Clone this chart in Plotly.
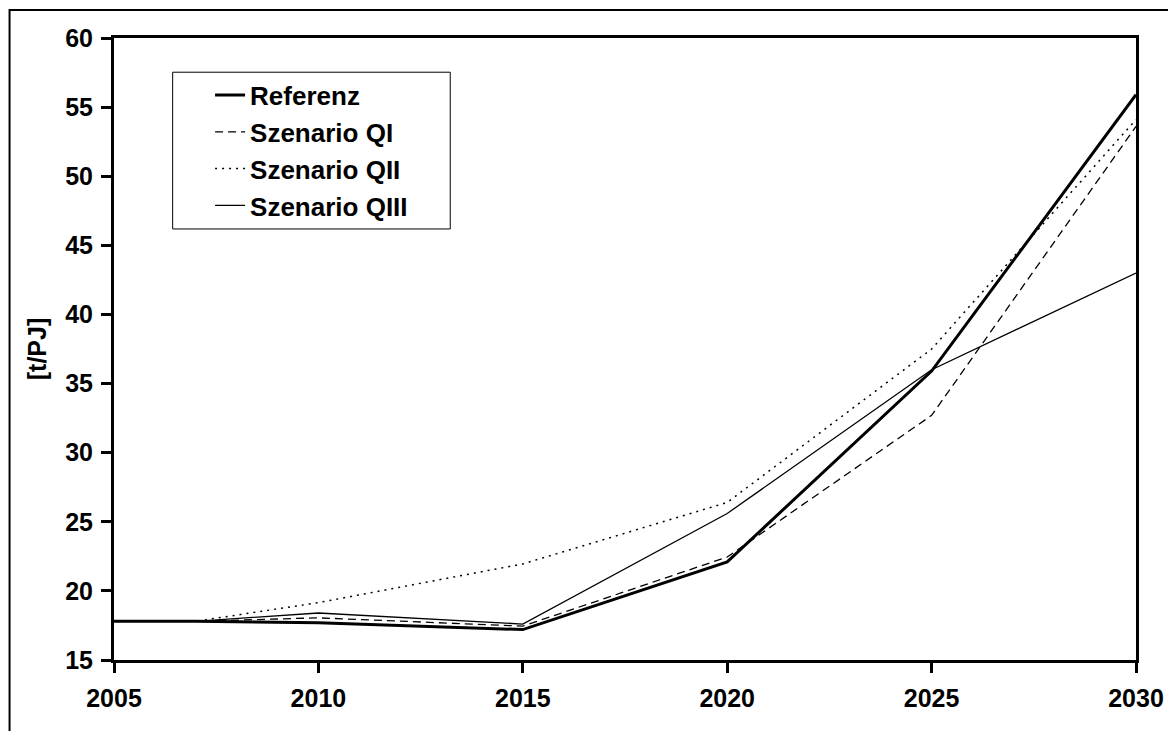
import plotly.graph_objects as go

# ---------------------------------------------------------------------------
# Data
# ---------------------------------------------------------------------------

years = [2005, 2007, 2010, 2015, 2020, 2025, 2030]

referenz = [17.8, 17.8, 17.7, 17.2, 22.1, 35.9, 55.9]
szenario_qi = [17.8, 17.8, 18.05, 17.45, 22.45, 32.7, 53.6]
szenario_qii = [17.8, 17.8, 19.15, 21.95, 26.4, 37.5, 54.1]
szenario_qiii = [17.8, 17.8, 18.4, 17.6, 25.6, 36.0, 43.0]

x_ticks = [2005, 2010, 2015, 2020, 2025, 2030]
y_ticks = [15, 20, 25, 30, 35, 40, 45, 50, 55, 60]

INK = "#000000"
FONT = "Liberation Sans, Arial, sans-serif"

series = [
    ("Referenz", referenz, dict(color=INK, width=3, dash="solid")),
    ("Szenario QI", szenario_qi, dict(color=INK, width=1.3, dash="8px,5px")),
    ("Szenario QII", szenario_qii, dict(color=INK, width=1.5, dash="2px,5px")),
    ("Szenario QIII", szenario_qiii, dict(color=INK, width=1.3, dash="solid")),
]

fig = go.Figure()
for name, values, line in series:
    fig.add_trace(go.Scatter(x=years, y=values, name=name, mode="lines", line=line))

axis_common = dict(
    showline=True,
    linewidth=3,
    linecolor=INK,
    mirror=True,
    ticks="outside",
    ticklen=10,
    tickwidth=3,
    tickcolor=INK,
    showgrid=False,
    zeroline=False,
    tickfont=dict(family=FONT, size=25, color=INK, weight="bold"),
)

# page body has an 8px margin, so the figure is sized/offset to compensate
fig.update_layout(
    width=1168,
    height=723,
    margin=dict(l=106, r=35, t=30, b=71),
    paper_bgcolor="white",
    plot_bgcolor="white",
    font=dict(family=FONT, size=25, color=INK, weight="bold"),
    xaxis=dict(axis_common, range=[2005, 2030], tickvals=x_ticks, ticklabelstandoff=4),
    yaxis=dict(
        axis_common,
        range=[15, 60],
        tickvals=y_ticks,
        ticklabelstandoff=3,
        title=dict(text="[t/PJ]", standoff=12,
                   font=dict(family=FONT, size=25, color=INK, weight="bold")),
    ),
    legend=dict(
        x=0.094,
        y=0.946,
        xanchor="left",
        yanchor="top",
        bgcolor="rgba(0,0,0,0)",
        borderwidth=0,
        font=dict(family=FONT, size=26, color=INK, weight="bold"),
        tracegroupgap=0,
    ),
    showlegend=True,
    shapes=[
        # outer chart frame (top and left edges visible)
        dict(type="rect", xref="paper", yref="paper",
             x0=-0.1022, x1=1.2, y0=-0.3, y1=1.045,
             line=dict(color=INK, width=2), fillcolor="rgba(0,0,0,0)", layer="below"),
        # legend frame
        dict(type="rect", xref="paper", yref="paper",
             x0=0.0574, x1=0.329, y0=0.693, y1=0.945,
             line=dict(color=INK, width=1), fillcolor="white", layer="below"),
    ],
)

fig.write_html("out.html")
